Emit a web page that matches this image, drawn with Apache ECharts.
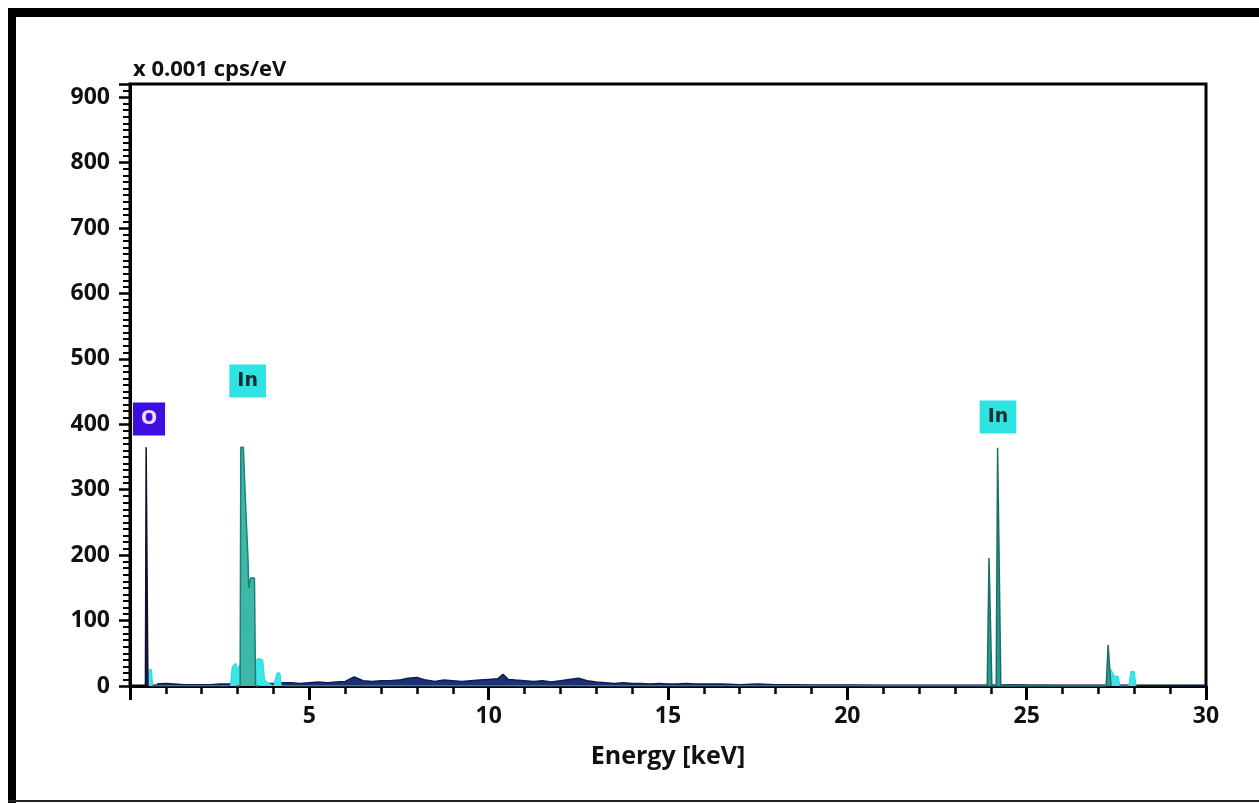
<!DOCTYPE html>
<html>
<head>
<meta charset="utf-8">
<title>EDS spectrum</title>
<script src="https://cdn.jsdelivr.net/npm/echarts@6/dist/echarts.min.js"></script>
<style>
  html, body { margin: 0; padding: 0; background: #ffffff; }
  #chart { width: 1259px; height: 803px; }
</style>
</head>
<body>
<div id="chart"></div>
<script>
// Axis ticks
const energyTicks = [0, 5, 10, 15, 20, 25, 30];        // keV
const countTicks = [0, 100, 200, 300, 400, 500, 600, 700, 800, 900]; // x 0.001 cps/eV

// Continuum / total spectrum (keV, counts)
const backgroundEnergy = [0.75, 1.0, 1.25, 1.5, 1.75, 2.0, 2.25, 2.5, 2.75, 3.0, 3.25, 3.5, 3.75, 4.0, 4.25, 4.5, 4.75,
  5.0, 5.25, 5.5, 5.75, 6.0, 6.25, 6.5, 6.75, 7.0, 7.25, 7.5, 7.75, 8.0, 8.25, 8.5, 8.75, 9.0, 9.25, 9.5, 9.75,
  10.0, 10.25, 10.4, 10.55, 10.75, 11.0, 11.25, 11.5, 11.75, 12.0, 12.25, 12.5, 12.75, 13.0, 13.25, 13.5, 13.75,
  14.0, 14.25, 14.5, 14.75, 15.0, 15.25, 15.5, 15.75, 16.0, 16.5, 17.0, 17.5, 18.0, 18.5, 19.0, 19.5, 20.0,
  21.0, 22.0, 23.0, 23.9, 24.6, 25.0, 26.0, 27.0, 28.0, 29.0, 30.0];
const backgroundCounts = [3, 4, 3, 2, 2, 2, 2, 3, 3, 4, 4, 4, 4, 4, 5, 5, 4,
  5, 6, 5, 6, 7, 14, 8, 7, 8, 8, 9, 12, 13, 9, 7, 9, 8, 7, 8, 9,
  10, 11, 18, 10, 9, 8, 7, 8, 6, 8, 10, 12, 8, 6, 5, 4, 5,
  4, 4, 3, 4, 3, 3, 4, 3, 3, 3, 2, 3, 2, 2, 1, 1, 1,
  0.5, 0.5, 0.5, 0.5, 1.5, 1, 0.5, 0.5, 0.5, 0.5, 0];

// O K line
const oxygenEnergy = [0.43, 0.45, 0.48, 0.50];
const oxygenCounts = [0, 365, 365, 0];

// In L family (main line with shoulders)
const indiumLEnergy = [2.95, 3.07, 3.09, 3.16, 3.22, 3.29, 3.31, 3.36, 3.47, 3.50, 3.60];
const indiumLCounts = [0, 0, 365, 365, 280, 195, 150, 165, 165, 0, 0];

// In K family
const indiumKEnergy = [23.90, 23.95, 23.99, 24.03, 24.15, 24.19, 24.24, 24.28, 27.22, 27.27, 27.31, 27.35];
const indiumKCounts = [0, 196, 196, 0, 0, 364, 364, 0, 0, 63, 63, 0];

// Low-level escape / sum features
const minorEnergy = [0.50, 0.53, 0.60, 0.63, 2.80, 2.85, 2.95, 3.00, 3.05, 3.10, 3.30, 3.50, 3.60, 3.70, 3.75, 3.85, 4.00,
  4.05, 4.10, 4.18, 4.22, 27.20, 27.25, 27.35, 27.45, 27.55, 27.60, 27.85, 27.90, 28.00, 28.05];
const minorCounts = [0, 25, 25, 0, 0, 30, 35, 25, 32, 30, 30, 40, 42, 40, 10, 5, 0,
  0, 20, 20, 0, 0, 25, 25, 15, 15, 0, 0, 22, 22, 0];

// Element markers
const markerNames = ['O', 'In', 'In'];
const markerEnergy = [0.53, 3.28, 24.2];
const markerLevel = [408, 466, 411];
const markerFill = ['#3a0fe0', '#2fe3e3', '#2fe3e3'];
const markerText = ['#f4d6f4', '#16302f', '#16302f'];

const zip = (xs, ys) => xs.map((x, i) => [x, ys[i]]);

const labelFont = '"Open Sans", Lato, sans-serif';

const chart = echarts.init(document.getElementById('chart'), null, { renderer: 'canvas' });

chart.setOption({
  animation: false,
  backgroundColor: '#ffffff',
  title: {
    text: 'x 0.001 cps/eV',
    left: 128,
    top: 54,
    textStyle: { fontFamily: labelFont, fontWeight: 'bold', fontSize: 22, color: '#111' }
  },
  grid: {
    left: 130, right: 53, top: 84, bottom: 117,
    show: true, borderColor: '#000', borderWidth: 3, backgroundColor: 'transparent'
  },
  xAxis: {
    type: 'value',
    min: energyTicks[0],
    max: energyTicks[energyTicks.length - 1],
    interval: 5,
    name: 'Energy [keV]',
    nameLocation: 'middle',
    nameGap: 58,
    nameTextStyle: { fontFamily: labelFont, fontWeight: 'bold', fontSize: 25, color: '#111' },
    axisLine: { show: true, onZero: false, lineStyle: { color: '#000', width: 3 } },
    axisTick: { show: true, inside: false, length: 14, lineStyle: { color: '#000', width: 3 } },
    minorTick: { show: true, splitNumber: 5, length: 8, lineStyle: { color: '#000', width: 2.5 } },
    splitLine: { show: false },
    axisLabel: {
      margin: 19,
      fontFamily: labelFont, fontWeight: 'bold', fontSize: 23, color: '#111',
      formatter: v => (v === 0 ? '' : String(v))
    }
  },
  yAxis: {
    type: 'value',
    min: countTicks[0],
    max: 920,
    interval: 100,
    axisLine: { show: true, lineStyle: { color: '#000', width: 3 } },
    axisTick: { show: true, inside: false, length: 11, lineStyle: { color: '#000', width: 2.5 } },
    minorTick: { show: true, splitNumber: 10, length: 7, lineStyle: { color: '#000', width: 2 } },
    splitLine: { show: false },
    axisLabel: {
      margin: 20,
      fontFamily: labelFont, fontWeight: 'bold', fontSize: 23, color: '#111',
      formatter: v => (countTicks.includes(v) ? String(v) : '')
    }
  },
  series: [
    {
      name: 'continuum',
      type: 'line',
      data: zip(backgroundEnergy, backgroundCounts),
      showSymbol: false,
      lineStyle: { color: '#0f1d55', width: 1.5 },
      areaStyle: { color: '#1b3274', opacity: 1 },
      z: 2
    },
    {
      name: 'minor',
      type: 'line',
      data: zip(minorEnergy, minorCounts),
      showSymbol: false,
      lineStyle: { color: '#2fd6d6', width: 1 },
      areaStyle: { color: '#3ce6e6', opacity: 1 },
      z: 3
    },
    {
      name: 'O',
      type: 'line',
      data: zip(oxygenEnergy, oxygenCounts),
      showSymbol: false,
      lineStyle: { color: '#101030', width: 1.5 },
      areaStyle: { color: '#1a1a3a', opacity: 1 },
      z: 4
    },
    {
      name: 'In L',
      type: 'line',
      data: zip(indiumLEnergy, indiumLCounts),
      showSymbol: false,
      lineStyle: { color: '#1e7f76', width: 1.5 },
      areaStyle: { color: '#3cb8a6', opacity: 1 },
      z: 4
    },
    {
      name: 'In K',
      type: 'line',
      data: zip(indiumKEnergy, indiumKCounts),
      showSymbol: false,
      lineStyle: { color: '#1b6f68', width: 1.5 },
      areaStyle: { color: '#2a9d90', opacity: 1 },
      z: 4
    },
    {
      name: 'markers',
      type: 'scatter',
      symbolSize: 0,
      itemStyle: { opacity: 1 },
      z: 6,
      data: markerNames.map((n, i) => ({
        value: [markerEnergy[i], markerLevel[i]],
        name: n,
        label: {
          show: true,
          position: 'inside',
          formatter: n,
          color: markerText[i],
          backgroundColor: markerFill[i],
          fontFamily: '"DejaVu Sans", sans-serif',
          fontWeight: 'bold',
          fontSize: 19,
          padding: [7, 8, 6, 8],
          lineHeight: 20
        }
      }))
    }
  ],
  graphic: [
    // outer frame
    { type: 'rect', shape: { x: 8, y: 8, width: 1251, height: 9 }, style: { fill: '#000' }, z: 100 },
    { type: 'rect', shape: { x: 8, y: 8, width: 8, height: 795 }, style: { fill: '#000' }, z: 100 },
    { type: 'rect', shape: { x: 8, y: 800, width: 1251, height: 2 }, style: { fill: '#222' }, z: 100 }
  ]
});
</script>
</body>
</html>
